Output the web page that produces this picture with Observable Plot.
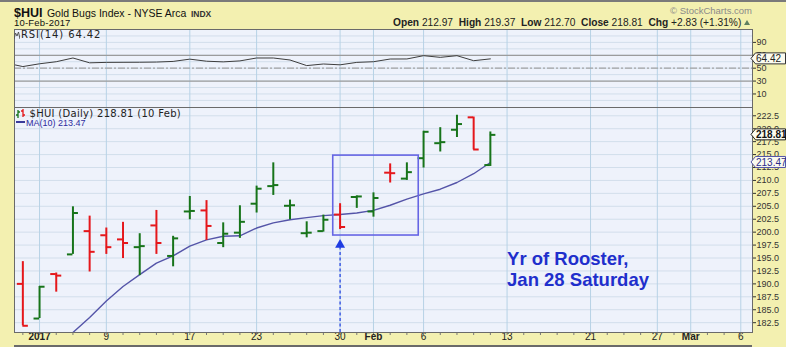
<!DOCTYPE html>
<html><head><meta charset="utf-8">
<script src="https://cdn.jsdelivr.net/npm/d3@7"></script>
<script src="https://cdn.jsdelivr.net/npm/@observablehq/plot@0.6"></script>
<style>
html,body{margin:0;padding:0;background:#f3f0b0;}
#wrap{position:relative;width:786px;height:347px;overflow:hidden;background:#f3f0b0;font-family:"Liberation Sans",Arial,sans-serif;}
.abs{position:absolute;white-space:nowrap;line-height:1;}
#wrap > svg{position:absolute;left:0;}
</style></head><body><div id="wrap"></div>
<script>
// ---------- data ----------
const tradingDays = ["2016-12-29","2016-12-30","2017-01-03","2017-01-04","2017-01-05","2017-01-06",
  "2017-01-09","2017-01-10","2017-01-11","2017-01-12","2017-01-13","2017-01-17","2017-01-18","2017-01-19",
  "2017-01-20","2017-01-23","2017-01-24","2017-01-25","2017-01-26","2017-01-27","2017-01-30","2017-01-31",
  "2017-02-01","2017-02-02","2017-02-03","2017-02-06","2017-02-07","2017-02-08","2017-02-09","2017-02-10",
  "2017-02-13","2017-02-14","2017-02-15","2017-02-16","2017-02-17","2017-02-21","2017-02-22","2017-02-23",
  "2017-02-24","2017-02-27","2017-02-28","2017-03-01","2017-03-02","2017-03-03","2017-03-06"];
const tickDates = ["2017-01-03","2017-01-09","2017-01-17","2017-01-23","2017-01-30","2017-02-01",
  "2017-02-06","2017-02-13","2017-02-21","2017-02-27","2017-03-01","2017-03-06"];
const tickLabels = ["2017","9","17","23","30","Feb","6","13","21","27","Mar","6"];
const majorLabels = ["2017","Feb","Mar"];

const barDates = ["2016-12-30","2017-01-03","2017-01-04","2017-01-05","2017-01-06","2017-01-09",
  "2017-01-10","2017-01-11","2017-01-12","2017-01-13","2017-01-17","2017-01-18","2017-01-19","2017-01-20",
  "2017-01-23","2017-01-24","2017-01-25","2017-01-26","2017-01-27","2017-01-30","2017-01-31","2017-02-01",
  "2017-02-02","2017-02-03","2017-02-06","2017-02-07","2017-02-08","2017-02-09","2017-02-10"];
const open  = [190.0,183.3,191.9,195.7,200.2,199.4,198.6,197.1,201.3,195.4,204.0,204.2,197.9,199.9,
  205.5,208.9,205.1,199.8,200.2,203.4,206.8,204.0,211.5,210.35,214.3,217.2,219.8,222.2,212.97];
const high  = [194.3,189.5,192.1,204.9,203.1,200.8,201.9,199.7,204.2,199.2,206.9,206.1,201.8,205.1,
  208.9,213.4,206.2,202.0,203.3,205.5,207.0,207.6,213.2,213.4,219.5,220.2,222.6,222.25,219.37];
const low   = [181.9,183.3,188.4,195.7,192.3,195.7,194.9,191.6,195.7,193.3,202.4,198.4,197.0,198.8,
  203.7,207.1,202.4,198.9,200.0,200.5,204.6,202.9,209.5,210.0,212.4,215.5,218.3,215.9,212.70];
const close = [181.9,189.45,191.6,203.7,196.2,197.1,197.9,197.3,197.9,198.8,204.1,201.2,199.7,202.0,
  208.4,209.1,205.2,199.9,202.4,201.0,206.9,206.6,211.4,211.6,219.4,217.4,220.9,215.98,218.81];

const maDates = barDates.slice(2);
const ma10 = [177.6,180.6,183.5,186.7,189.5,191.8,194.0,195.4,197.3,198.5,199.2,199.3,200.8,201.8,
  202.4,202.8,203.2,203.4,203.7,204.2,205.2,206.4,207.4,208.3,209.6,211.3,213.47];

const rsiDates = ["2016-12-29", ...barDates];
const rsi14 = [58,52.5,56.8,60,65.8,58.3,59,59.1,59.2,59.5,60.5,64,60.8,59.8,61.3,65.8,65.8,62.7,
  54,56.5,55.2,59,60,64.2,64.3,69.4,66.8,69.4,61.6,64.42];

const priceTicks = d3.range(182.5, 222.6, 2.5);
const rsiTicks = [90,70,50,30,10];
const rsiGrid = [0,10,20,30,40,50,60,70,80,90,100];

const boxFrom = "2017-01-30", boxTo = "2017-02-06";
const boxPrices = [199.35, 214.8];
const arrowDay = "2017-01-30";
const noteDay = "2017-02-13", notePrice = 196.6;
const noteLines = ["Yr of Rooster,", "Jan 28 Saturday"];

// ---------- derived ----------
const idx = d => tradingDays.indexOf(d);
const bars = barDates.map((d, k) => ({i: idx(d), open: open[k], high: high[k], low: low[k], close: close[k]}));
const up = bars.filter(b => b.close >= b.open), down = bars.filter(b => b.close < b.open);
const maData = maDates.map((d, k) => ({i: idx(d), v: ma10[k]}));
const rsiData = rsiDates.map((d, k) => ({i: idx(d), v: rsi14[k]}));
const ticks = tickDates.map((d, k) => ({i: idx(d), label: tickLabels[k]}));
const allIdx = tradingDays.map((d, k) => k).slice(1);
const last = bars[bars.length - 1], prev = bars[bars.length - 2];

const W = 786, ML = 14, MR = 34;
const xDomain = [0.5, 44.7];
const panelBg = "#eef2fb", hGrid = "#d2deeb", vGrid = "#b7d2e6";
const GREEN = "#17741a", RED = "#e5171b";
const font = "'Liberation Sans', Arial, sans-serif";

function valueTag(value, stroke, color, weight) {
  return (index, scales, values, dims) => {
    const y = scales.y(value);
    const x0 = dims.width - dims.marginRight;
    const g = d3.create("svg:g");
    g.append("path")
      .attr("d", `M${x0 - 1},${y}L${x0 + 3.5},${y - 5.5}H${x0 + 33.5}V${y + 5.5}H${x0 + 3.5}Z`)
      .attr("fill", "#fbfbef").attr("stroke", stroke).attr("stroke-width", 1);
    g.append("text").attr("x", x0 + 4).attr("y", y).attr("dy", "0.36em")
      .attr("text-anchor", "start")
      .attr("font-size", 10).attr("font-weight", weight).attr("fill", color)
      .attr("font-family", font).text(value.toFixed(2));
    return g.node();
  };
}

const style = {background: "transparent", fontFamily: font, fontSize: "9px", color: "#333", overflow: "visible"};

// ---------- RSI panel ----------
const rsiPlot = Plot.plot({
  width: W, height: 78, marginLeft: ML, marginRight: MR, marginTop: 0, marginBottom: 0,
  x: {domain: xDomain, axis: null, label: null},
  y: {domain: [-11, 110], axis: null, label: null},
  style,
  marks: [
    Plot.frame({fill: panelBg, stroke: "none"}),
    Plot.gridY(rsiGrid, {stroke: hGrid, strokeOpacity: 1}),
    Plot.gridX(ticks.map(t => t.i), {stroke: vGrid, strokeOpacity: 1}),
    Plot.ruleY([70, 30], {stroke: "#9c9c9c", strokeWidth: 1.3}),
    Plot.ruleY([50], {stroke: "#a3a3a3", strokeWidth: 1.2, strokeDasharray: "7,2,2,2"}),
    Plot.line(rsiData, {x: "i", y: "v", stroke: "#3d3d3d", strokeWidth: 1, clip: true}),
    Plot.axisY(rsiTicks, {anchor: "right", tickSize: 3, tickPadding: 1, fontSize: 9, color: "#333", label: null}),
    Plot.frame({stroke: "#6a6a6a"}),
    valueTag(rsi14[rsi14.length - 1], "#333", "#222", "normal")
  ]
});
rsiPlot.style.top = "29px";

// ---------- price panel ----------
const pricePlot = Plot.plot({
  width: W, height: 240, marginLeft: ML, marginRight: MR, marginTop: 0, marginBottom: 15,
  x: {domain: xDomain, axis: null, label: null},
  y: {domain: [180.6, 224.1], axis: null, label: null},
  style,
  marks: [
    Plot.frame({fill: panelBg, stroke: "none"}),
    Plot.gridY(priceTicks, {stroke: hGrid, strokeOpacity: 1}),
    Plot.gridX(ticks.map(t => t.i), {stroke: vGrid, strokeOpacity: 1}),
    Plot.line(maData, {x: "i", y: "v", stroke: "#5454a8", strokeWidth: 1.4, clip: true}),
    ...[[up, GREEN], [down, RED]].flatMap(([data, c]) => [
      Plot.ruleX(data, {x: "i", y1: "low", y2: "high", stroke: c, strokeWidth: 2}),
      Plot.ruleY(data, {y: "open", x1: d => d.i - 0.33, x2: "i", stroke: c, strokeWidth: 2}),
      Plot.ruleY(data, {y: "close", x1: "i", x2: d => d.i + 0.33, stroke: c, strokeWidth: 2})
    ]),
    Plot.rect([0], {x1: idx(boxFrom) - 0.41, x2: idx(boxTo) - 0.29, y1: boxPrices[0], y2: boxPrices[1],
      fill: "none", stroke: "#6666e4", strokeWidth: 1.6}),
    Plot.ruleX([idx(arrowDay)], {y1: 180.6, y2: boxPrices[0] - 1.5, stroke: "#1f3ce2",
      strokeWidth: 1.2, strokeDasharray: "3,2.5"}),
    Plot.dot([idx(arrowDay)], {x: d => d, y: boxPrices[0], dy: 9.3, symbol: "triangle", r: 3.7,
      fill: "#1f3ce2", stroke: "none"}),
    Plot.text([noteLines.join("\n")], {x: idx(noteDay), y: notePrice, text: d => d, textAnchor: "start",
      lineAnchor: "top", lineHeight: 1.15, fontSize: 18.5, fontWeight: "bold", fill: "#1f2fcc"}),
    Plot.axisY(priceTicks, {anchor: "right", tickSize: 3, tickPadding: 1, fontSize: 9, color: "#333",
      tickFormat: d3.format(".1f"), label: null}),
    Plot.axisX(allIdx, {anchor: "bottom", tickSize: 3, tickFormat: () => "", color: "#777", label: null}),
    Plot.text(ticks.filter(t => !majorLabels.includes(t.label)), {x: "i", text: "label", frameAnchor: "bottom",
      dy: 7, fontSize: 10, fill: "#222"}),
    Plot.text(ticks.filter(t => majorLabels.includes(t.label)), {x: "i", text: "label", frameAnchor: "bottom",
      dy: 7, fontSize: 10, fontWeight: "bold", fill: "#222"}),
    Plot.frame({stroke: "#6a6a6a"}),
    valueTag(last.close, "#222", "#111", "bold"),
    valueTag(ma10[ma10.length - 1], "#5454a8", "#2d2d8a", "normal")
  ]
});
pricePlot.style.top = "107px";

const wrap = document.getElementById("wrap");
wrap.appendChild(rsiPlot);
wrap.appendChild(pricePlot);

// ---------- header & legends ----------
const chg = last.close - prev.close, pct = chg / prev.close * 100;
const f2 = d3.format(".2f");
const lastDate = new Date(barDates[barDates.length - 1] + "T00:00");
const hdrDate = d3.timeFormat("%d-%b-%Y")(lastDate);
const legDate = d3.timeFormat("%d %b")(lastDate);
const html = `
<div style="position:absolute;left:0;top:0;width:786px;height:2px;background:#7a7a7a"></div>
<div class="abs" style="left:14px;top:4px;color:#111"><span style="font-weight:bold;font-size:12.5px">$HUI</span> <span style="font-size:10.5px">Gold Bugs Index - NYSE Arca</span> <span style="font-size:8.5px;font-weight:bold;color:#333">INDX</span></div>
<div class="abs" style="left:14px;top:18px;font-size:9.5px;color:#111;letter-spacing:0.2px">${hdrDate}</div>
<div class="abs" style="right:34px;top:6px;font-size:9.5px;color:#8a8a8a">© StockCharts.com</div>
<div class="abs" style="left:393px;top:18px;font-size:10.2px;color:#222"><b>Open</b> ${f2(last.open)} &nbsp;<b>High</b> ${f2(last.high)} &nbsp;<b>Low</b> ${f2(last.low)} &nbsp;<b>Close</b> ${f2(last.close)} &nbsp;<b>Chg</b> ${d3.format("+.2f")(chg)} (${d3.format("+.2f")(pct)}%) <svg width="6" height="5" style="vertical-align:1px"><path d="M0,5L3,0L6,5Z" fill="#5f7f5f"/></svg></div>
<div class="abs" style="left:14px;top:30px;font-family:'DejaVu Sans',sans-serif;font-size:10px;letter-spacing:0.9px;color:#222"><svg width="6" height="8" style="vertical-align:-1px;margin-right:1px"><polyline points="0,8 1.5,2 3,5 4.5,1 6,8" fill="none" stroke="#555" stroke-width="1"/></svg>RSI(14) ${f2(rsi14[rsi14.length - 1])}</div>
<div class="abs" style="left:16px;top:109px;font-family:'DejaVu Sans',sans-serif;font-size:10px;letter-spacing:0.3px;color:#222"><svg width="10" height="9" style="vertical-align:-1px"><path d="M2,1V9M0,6H2M2,3H4" stroke="${GREEN}" stroke-width="1.3" fill="none"/><path d="M7,0V8M5,2H7M7,6H9" stroke="${RED}" stroke-width="1.3" fill="none"/></svg> $HUI (Daily) ${f2(last.close)} (${legDate})</div>
<div class="abs" style="left:16px;top:119px;font-size:9px;color:#2d2da0"><span style="display:inline-block;width:9px;height:2px;background:#3a3a9a;vertical-align:3px;margin-right:1px"></span>MA(10) ${f2(ma10[ma10.length - 1])}</div>
<div style="position:absolute;left:14px;top:345px;width:738px;height:2px;background:#6a6a6a"></div>
`;
wrap.insertAdjacentHTML("beforeend", html);
</script></body></html>
